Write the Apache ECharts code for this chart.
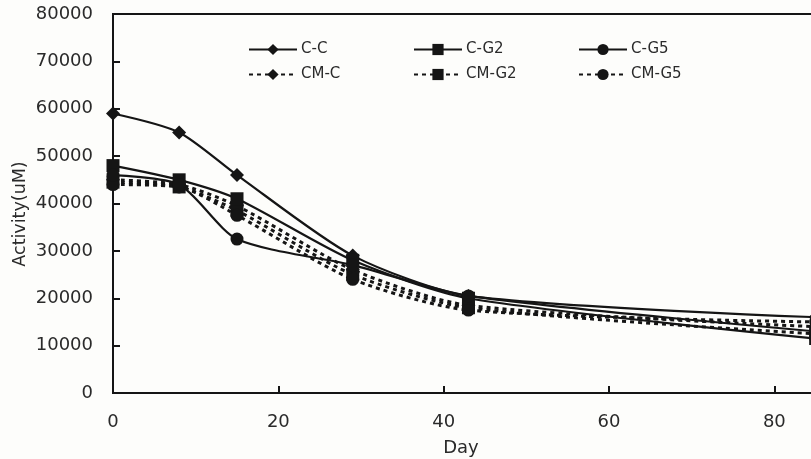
<!DOCTYPE html>
<html>
<head>
<meta charset="utf-8">
<script src="https://cdn.jsdelivr.net/npm/echarts@6/dist/echarts.min.js"></script>
<style>
  html, body { margin: 0; padding: 0; background: #fdfdfb; }
  #chart { width: 811px; height: 459px; }
</style>
</head>
<body>
<div id="chart"></div>
<script>
// Sampling days
var days = [0, 8, 15, 29, 43, 85];

// Activity (uM) per treatment
var cC   = [59000, 55000, 46000, 29000, 20500, 16000];
var cG2  = [48000, 45000, 41000, 28000, 20000, 11500];
var cG5  = [46000, 44000, 32500, 27000, 20500, 13000];
var cmC  = [45000, 44000, 39500, 26000, 18500, 14000];
var cmG2 = [44500, 43500, 38500, 25000, 18000, 12500];
var cmG5 = [44000, 43500, 37500, 24000, 17500, 15000];

var yTicks = { min: 0, max: 80000, interval: 10000 };
var xTicks = { min: 0, max: 90, interval: 20 };

var ink = '#151515';
var font = 'DejaVu Sans';

function pairs(vals) {
  return days.map(function (d, i) { return [d, vals[i]]; });
}

function makeSeries(name, vals, symbol, size, dashed) {
  return {
    name: name,
    type: 'line',
    data: pairs(vals),
    smooth: 0.25,
    symbol: symbol,
    symbolSize: size,
    itemStyle: { color: ink, borderWidth: 0 },
    lineStyle: dashed
      ? { color: ink, width: 3, type: [4, 4] }
      : { color: ink, width: 2.2 },
    emphasis: { disabled: true },
    z: dashed ? 3 : 4
  };
}

var series = [
  makeSeries('C-C',   cC,   'diamond', 14, false),
  makeSeries('C-G2',  cG2,  'rect',    13, false),
  makeSeries('C-G5',  cG5,  'circle',  13, false),
  makeSeries('CM-C',  cmC,  'diamond', 14, true),
  makeSeries('CM-G2', cmG2, 'rect',    13, true),
  makeSeries('CM-G5', cmG5, 'circle',  13, true)
];

var legendSpots = [
  { name: 'C-C',   left: 248, top: 42 },
  { name: 'C-G2',  left: 413, top: 42 },
  { name: 'C-G5',  left: 578, top: 42 },
  { name: 'CM-C',  left: 248, top: 67 },
  { name: 'CM-G2', left: 413, top: 67 },
  { name: 'CM-G5', left: 578, top: 67 }
];

var legends = legendSpots.map(function (s) {
  return {
    data: [s.name],
    left: s.left,
    top: s.top,
    itemWidth: 48,
    itemHeight: 14,
    selectedMode: false,
    padding: 0,
    textStyle: { fontFamily: font, fontSize: 15, color: '#2a2a2a', padding: [0, 0, 0, -1] }
  };
});

function plain(v) { return String(v); }

var chart = echarts.init(document.getElementById('chart'), null, { renderer: 'canvas' });
chart.setOption({
  backgroundColor: '#fdfdfb',
  animation: false,
  grid: {
    left: 113, top: 14, width: 744, height: 379,
    outerBoundsMode: 'none',
    containLabel: false,
    show: true, borderColor: ink, borderWidth: 2, backgroundColor: 'transparent'
  },
  legend: legends,
  xAxis: {
    type: 'value',
    min: xTicks.min, max: xTicks.max, interval: xTicks.interval,
    axisLine: { show: true, lineStyle: { color: ink, width: 2 } },
    axisTick: { show: true, inside: true, length: 7, lineStyle: { color: ink, width: 2 } },
    axisLabel: { fontFamily: font, fontSize: 18, color: '#2a2a2a', margin: 20, formatter: plain },
    splitLine: { show: false }
  },
  yAxis: {
    type: 'value',
    min: yTicks.min, max: yTicks.max, interval: yTicks.interval,
    axisLine: { show: true, lineStyle: { color: ink, width: 2 } },
    axisTick: { show: true, inside: true, length: 7, lineStyle: { color: ink, width: 2 } },
    axisLabel: { fontFamily: font, fontSize: 18, color: '#2a2a2a', margin: 20, formatter: plain },
    splitLine: { show: false }
  },
  graphic: [
    {
      type: 'text', x: 20, y: 214, rotation: Math.PI / 2,
      style: { text: 'Activity(uM)', fontFamily: font, fontSize: 17.5, fill: '#2a2a2a',
               align: 'center', verticalAlign: 'middle' }
    },
    {
      type: 'text', x: 461, y: 448,
      style: { text: 'Day', fontFamily: font, fontSize: 18, fill: '#2a2a2a',
               align: 'center', verticalAlign: 'middle' }
    }
  ],
  series: series
});
</script>
</body>
</html>
